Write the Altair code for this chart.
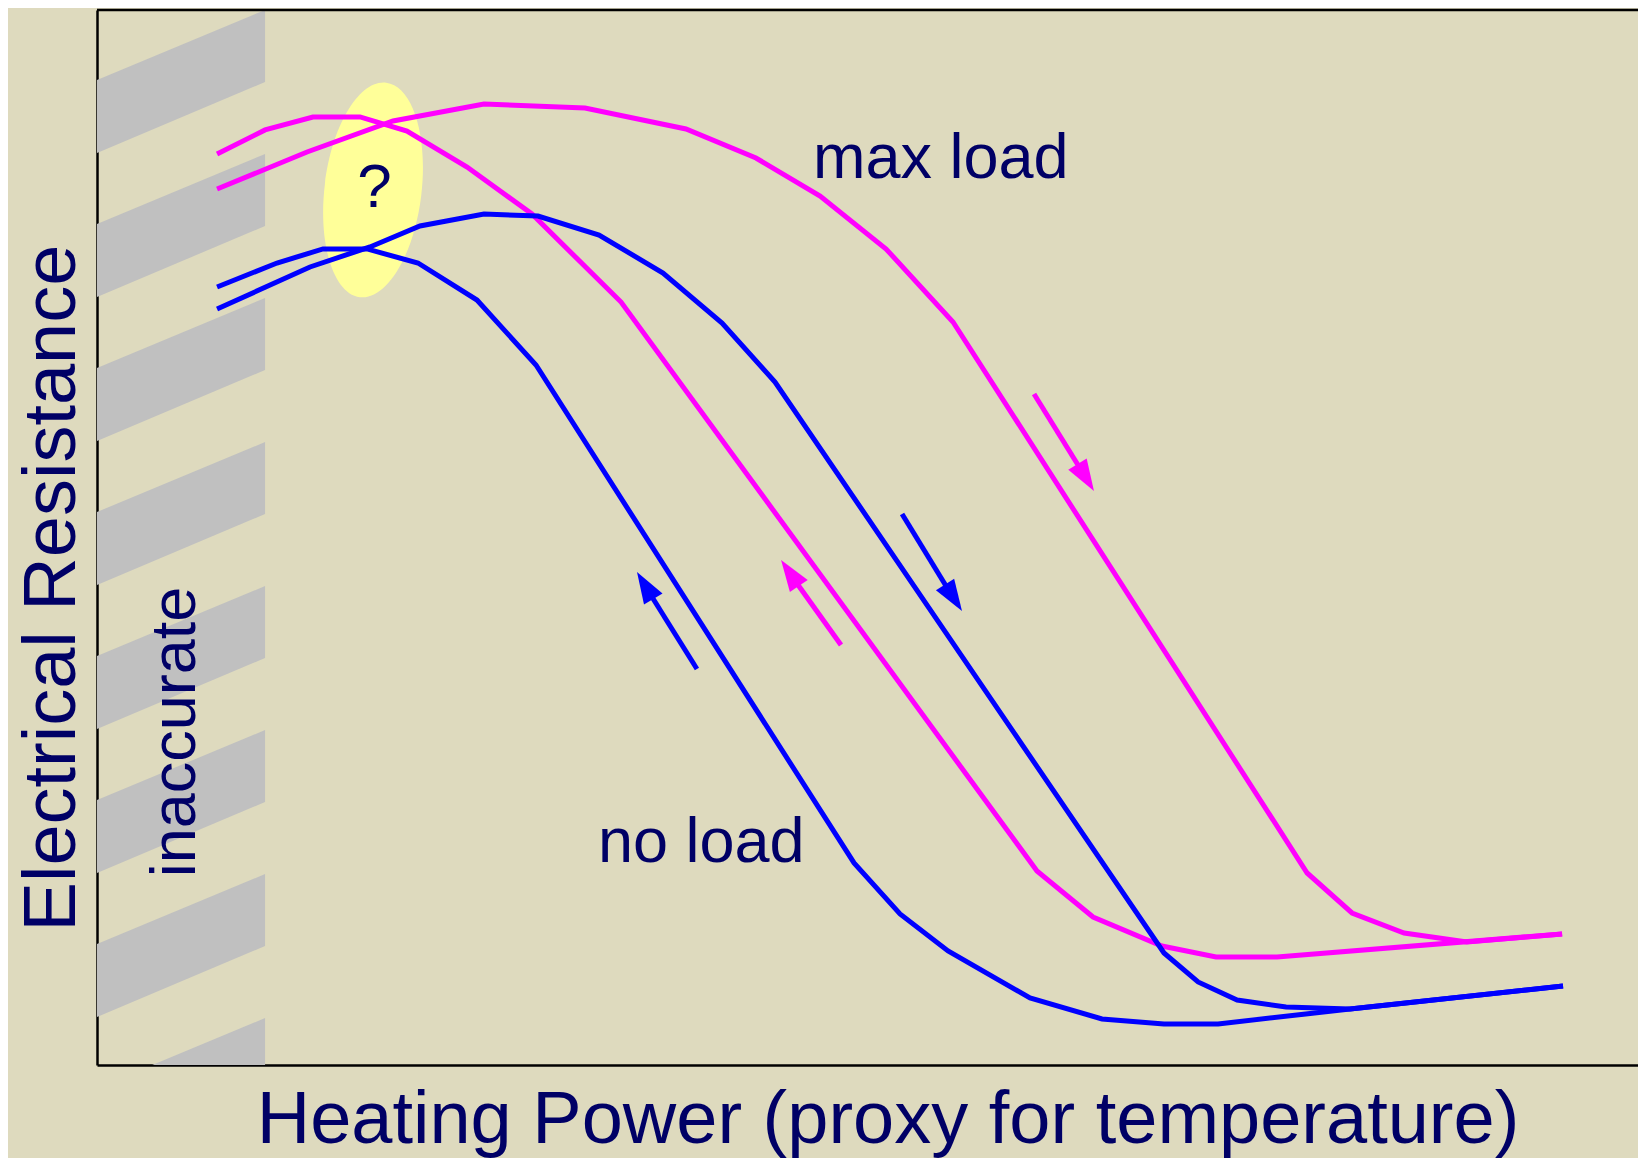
import math
import altair as alt
import pandas as pd

# ---------------- data (x: heating power 0-100, y: electrical resistance 0-100) ----------------
# max load, inner loop branch
maxA_x = [7.75, 10.85, 13.94, 16.98, 20.01, 23.89, 28.08, 33.83, 60.68, 64.30, 68.75, 72.24, 76.18, 94.58]
maxA_y = [86.35, 88.63, 89.86, 89.86, 88.53, 85.12, 80.66, 72.32, 18.39, 14.03, 11.28, 10.24, 10.24, 12.42]
# max load, outer loop branch
maxB_x = [7.75, 13.56, 19.11, 24.98, 31.50, 38.02, 42.54, 46.68, 50.94, 55.26, 78.12, 81.02, 84.38, 88.44, 94.58]
maxB_y = [83.03, 86.54, 89.48, 91.09, 90.71, 88.72, 85.97, 82.37, 77.35, 70.43, 18.20, 14.41, 12.51, 11.66, 12.42]
# no load, inner loop branch
noA_x = [7.75, 11.62, 14.59, 17.43, 20.72, 24.53, 28.34, 48.87, 51.84, 54.94, 60.23, 64.88, 68.88, 72.37, 80.89, 94.64]
noA_y = [73.74, 76.02, 77.35, 77.35, 76.02, 72.51, 66.35, 19.15, 14.31, 10.81, 6.35, 4.36, 3.89, 3.89, 5.31, 7.49]
# no load, outer loop branch
noB_x = [7.75, 13.75, 17.62, 20.85, 24.98, 28.47, 32.41, 36.54, 40.35, 43.77, 68.88, 71.08, 73.60, 76.76, 80.89, 94.64]
noB_y = [71.66, 75.64, 77.54, 79.53, 80.66, 80.47, 78.67, 75.07, 70.33, 64.74, 10.62, 7.87, 6.16, 5.50, 5.31, 7.49]

# direction arrows: tail, end of shaft (base of head), tip
arrow_load = ["max load", "no load", "no load", "max load"]
arrow_tail_x = [60.49, 51.97, 38.73, 48.03]
arrow_tail_y = [63.60, 52.23, 37.54, 39.81]
arrow_base_x = [63.33, 54.81, 35.89, 45.26]
arrow_base_y = [56.87, 45.40, 44.22, 45.50]
arrow_tip_x = [64.36, 55.84, 34.86, 44.16]
arrow_tip_y = [54.41, 43.03, 46.73, 47.87]

# "inaccurate" hatch band (left region)
stripe_x = [0.0, 10.85]
stripe_top_left = [93.37, 79.72, 66.07, 52.42, 38.77, 25.12, 11.47, -2.18]
stripe_top_right = [100.0, 86.35, 72.70, 59.05, 45.40, 31.75, 18.10, 4.45]
stripe_bot_left = [86.45, 72.80, 59.15, 45.50, 31.85, 18.20, 4.55, -9.10]
stripe_bot_right = [93.18, 79.53, 65.88, 52.23, 38.58, 24.93, 11.28, -2.37]

# visible extent of the axes
x_domain = [0.0, 99.48]
y_domain = [0.0, 100.0]

# uncertain region ("?") ellipse centre
ellipse_x = [17.82]
ellipse_y = [82.94]

# text labels
label_text = ["max load", "no load"]
label_x = [46.22, 32.34]
label_y = [84.08, 19.24]
q_text = ["?"]
q_x = [17.91]
q_y = [81.33]
side_text = ["inaccurate"]
side_x = [6.33]
side_y = [31.56]

x_title = "Heating Power (proxy for temperature)"
y_title = "Electrical Resistance"

# ---------------- styling ----------------
W, H = 1541, 1055
BG = "#dedabe"
NAVY = "#000066"
FONT = "Liberation Sans"
MAGENTA = "#ff00ff"
BLUE = "#0000ff"

xs = alt.Scale(domain=x_domain, nice=False, zero=False)
ys = alt.Scale(domain=y_domain, nice=False, zero=False)
cscale = alt.Scale(domain=["max load", "no load"], range=[MAGENTA, BLUE])

# ---------------- tables ----------------
rows = []
for name, load, cx, cy in [("maxA", "max load", maxA_x, maxA_y), ("maxB", "max load", maxB_x, maxB_y),
                           ("noA", "no load", noA_x, noA_y), ("noB", "no load", noB_x, noB_y)]:
    for i, (a, b) in enumerate(zip(cx, cy)):
        rows.append({"curve": name, "load": load, "i": i, "x": a, "y": b})
curves = pd.DataFrame(rows)

srows = []
for k in range(len(stripe_top_left)):
    srows.append({"stripe": k, "x": stripe_x[0], "yt": stripe_top_left[k], "yb": stripe_bot_left[k]})
    srows.append({"stripe": k, "x": stripe_x[1], "yt": stripe_top_right[k], "yb": stripe_bot_right[k]})
stripes = pd.DataFrame(srows)

arrows = pd.DataFrame({"load": arrow_load, "x": arrow_tail_x, "y": arrow_tail_y,
                       "bx": arrow_base_x, "by": arrow_base_y, "tx": arrow_tip_x, "ty": arrow_tip_y})
xspan = x_domain[1] - x_domain[0]
yspan = y_domain[1] - y_domain[0]
angles = []
for r in arrows.itertuples():
    dx = (r.tx - r.bx) * W / xspan
    dy = -(r.ty - r.by) * H / yspan
    angles.append(math.degrees(math.atan2(dx, -dy)) % 360)
arrows["angle"] = angles

frame = pd.DataFrame({"y": [y_domain[1]], "x": [x_domain[0]], "x2": [x_domain[1]]})
ell = pd.DataFrame({"x": ellipse_x, "y": ellipse_y})
labels = pd.DataFrame({"text": label_text, "x": label_x, "y": label_y})
qlab = pd.DataFrame({"text": q_text, "x": q_x, "y": q_y})
side = pd.DataFrame({"text": side_text, "x": side_x, "y": side_y})

# ---------------- layers ----------------
bottom_axis = alt.Axis(title=x_title, labels=False, ticks=False, grid=False, domain=True,
                       domainColor="black", domainWidth=2.5, titleFont=FONT, titleFontSize=74,
                       titleFontWeight="normal", titleColor=NAVY, titleX=790.5, titleY=77,
                       titleAlign="center", titleBaseline="alphabetic", titleLimit=3000)
left_axis = alt.Axis(title=y_title, labels=False, ticks=False, grid=False, domain=True,
                     domainColor="black", domainWidth=2.5, titleFont=FONT, titleFontSize=74,
                     titleFontWeight="normal", titleColor=NAVY, titleX=-23, titleY=577.5,
                     titleAngle=270, titleAlign="center", titleBaseline="alphabetic", titleLimit=3000)

stripe_layer = alt.Chart(stripes).mark_area(color="#c0c0c0", opacity=1, clip=True).encode(
    x=alt.X("x:Q", scale=xs, axis=bottom_axis),
    y=alt.Y("yt:Q", scale=ys, axis=left_axis),
    y2="yb:Q",
    detail="stripe:N",
)

frame_layer = alt.Chart(frame).mark_rule(color="black", strokeWidth=2.5).encode(
    x=alt.X("x:Q", scale=xs),
    x2="x2:Q",
    y=alt.Y("y:Q", scale=ys),
)

ELLIPSE = "M0,-1 A0.449,1 0 1,1 0,1 A0.449,1 0 1,1 0,-1 Z"
ellipse_layer = alt.Chart(ell).mark_point(shape=ELLIPSE, size=216 * 216, filled=True, fill="#ffff99",
                                          opacity=1, strokeWidth=0, angle=7).encode(
    x=alt.X("x:Q", scale=xs),
    y=alt.Y("y:Q", scale=ys),
)

line_layer = alt.Chart(curves).mark_line(strokeWidth=5, clip=True).encode(
    x=alt.X("x:Q", scale=xs),
    y=alt.Y("y:Q", scale=ys),
    color=alt.Color("load:N", scale=cscale, legend=None),
    detail="curve:N",
    order="i:Q",
)

shaft_layer = alt.Chart(arrows).mark_rule(strokeWidth=5).encode(
    x=alt.X("x:Q", scale=xs),
    y=alt.Y("y:Q", scale=ys),
    x2="bx:Q", y2="by:Q",
    color=alt.Color("load:N", scale=cscale, legend=None),
)

HEAD = "M0,0 L0.72,2.1 L-0.72,2.1 Z"
head_layer = alt.Chart(arrows).mark_point(shape=HEAD, size=900, filled=True, opacity=1, strokeWidth=0).encode(
    x=alt.X("tx:Q", scale=xs),
    y=alt.Y("ty:Q", scale=ys),
    angle=alt.Angle("angle:Q", scale=None),
    color=alt.Color("load:N", scale=cscale, legend=None),
)

label_layer = alt.Chart(labels).mark_text(font=FONT, fontSize=63, color=NAVY, align="left",
                                          baseline="alphabetic").encode(
    x=alt.X("x:Q", scale=xs),
    y=alt.Y("y:Q", scale=ys),
    text="text:N",
)

q_layer = alt.Chart(qlab).mark_text(font=FONT, fontSize=62, color=NAVY, align="center",
                                    baseline="alphabetic").encode(
    x=alt.X("x:Q", scale=xs),
    y=alt.Y("y:Q", scale=ys),
    text="text:N",
)

side_layer = alt.Chart(side).mark_text(font=FONT, fontSize=63, color=NAVY, angle=270,
                                       align="center", baseline="alphabetic").encode(
    x=alt.X("x:Q", scale=xs),
    y=alt.Y("y:Q", scale=ys),
    text="text:N",
)

chart = alt.layer(stripe_layer, frame_layer, ellipse_layer, line_layer, shaft_layer, head_layer,
                  label_layer, q_layer, side_layer).properties(
    width=W, height=H,
    autosize=alt.AutoSizeParams(type="none"),
    padding={"left": 89, "top": 2, "right": 0, "bottom": 93},
    background=BG,
).configure_view(stroke=None)

chart.save("out.html", embed_options={"renderer": "svg", "actions": False})
